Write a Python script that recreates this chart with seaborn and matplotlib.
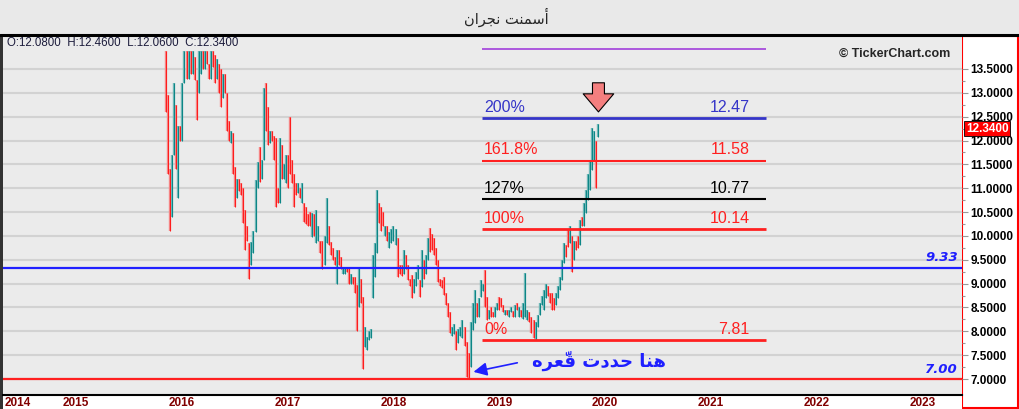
import numpy as np
import pandas as pd
import matplotlib
matplotlib.use('Agg')
import matplotlib.pyplot as plt
from matplotlib.patches import Rectangle
from matplotlib.lines import Line2D
from matplotlib.transforms import ScaledTranslation, blended_transform_factory
import seaborn as sns

sns.set_style('white')
plt.rcParams['font.family'] = ['Liberation Sans', 'DejaVu Sans']

# weekly candles (open, close)
first_week = '2016-01-03'
opens = [13.88, 12.95, 11.40, 10.40, 11.70, 12.75, 10.80, 12.30, 12.00, 13.20,
         13.88, 13.30, 13.88, 13.40, 13.75, 13.27, 13.00, 13.40, 13.88, 13.50,
         13.88, 13.60, 13.30, 13.88, 13.80, 13.30, 13.60, 13.50, 12.90, 13.40,
         13.00, 12.40, 11.95, 12.15, 11.45, 10.80, 11.20, 11.10, 11.00, 10.55,
         10.20, 9.85, 9.40, 9.65, 10.08, 11.00, 11.86, 11.20, 11.60, 13.20,
         12.70, 11.95, 12.20,
         # 2017
         12.10, 12.05, 11.00, 10.70, 11.90, 11.20, 11.10, 11.70, 12.50, 11.60,
         11.30, 11.10, 10.90, 11.00, 10.70, 10.70, 10.60, 10.45, 10.50, 9.98,
         10.45, 9.85, 9.90, 9.90, 9.90, 9.40, 9.85, 10.20, 9.87, 9.75,
         9.55, 9.00, 9.70, 9.55, 9.20, 9.20, 9.35, 9.33, 9.00, 9.14,
         9.14, 8.97, 8.50, 9.10, 8.72, 7.67, 7.60, 7.82, 7.85, 8.70,
         9.14, 9.64,
         # 2018
         10.70, 10.60, 10.50, 10.00, 10.20, 9.75, 9.85, 9.90, 9.80, 9.95,
         9.40, 9.40, 9.20, 9.60, 9.40, 9.10, 9.18, 8.80, 8.95, 9.10,
         9.07, 8.93, 9.50, 9.20, 9.50, 10.17, 10.05, 9.95, 9.75, 9.50,
         9.10, 9.07, 9.14, 8.80, 8.60, 8.40, 7.90, 7.95, 8.00, 7.75,
         7.90, 7.86, 8.10, 7.78, 7.55, 7.25, 8.03, 8.17, 8.60, 8.30,
         8.72, 8.85, 9.28,
         # 2019
         8.72, 8.25, 8.50, 8.40, 8.30, 8.45, 8.72, 8.70, 8.55, 8.35,
         8.45, 8.30, 8.40, 8.42, 8.30, 8.60, 8.30, 8.45, 8.25, 8.30,
         8.24, 8.40, 8.30, 8.24, 7.81, 8.10, 8.35, 8.55, 8.45, 8.70,
         8.95, 8.80, 8.80, 8.70, 8.55, 8.70, 8.87, 9.07, 9.43, 9.80,
         10.12, 9.85, 10.00, 9.50, 9.90, 10.00, 9.80, 10.40, 10.20, 10.48,
         10.75, 10.96, 11.38, 11.60, 12.00, 12.08]
closes = [12.60, 11.30, 10.10, 11.70, 13.20, 11.40, 12.30, 12.00, 13.20, 13.88,
          13.30, 13.88, 13.40, 13.88, 13.27, 12.43, 13.88, 13.88, 13.50, 13.88,
          13.60, 13.30, 13.88, 13.55, 13.20, 13.70, 13.00, 12.70, 13.40, 13.00,
          12.20, 12.00, 12.20, 11.30, 10.60, 11.20, 10.95, 10.85, 10.27, 9.70,
          9.90, 9.10, 9.87, 10.10, 11.17, 11.55, 11.13, 11.60, 13.10, 12.20,
          11.90, 12.20, 12.00,
          # 2017
          11.60, 10.60, 10.70, 12.05, 11.20, 11.50, 11.70, 11.00, 11.30, 11.10,
          10.60, 10.85, 11.10, 10.80, 11.10, 10.30, 10.25, 10.20, 10.20, 10.47,
          10.00, 10.55, 10.20, 9.65, 9.30, 10.00, 10.80, 9.80, 9.60, 9.50,
          9.40, 9.70, 9.40, 9.30, 9.33, 9.35, 9.25, 9.00, 9.20, 9.00,
          8.80, 8.00, 9.35, 8.60, 7.20, 8.10, 7.88, 8.00, 8.05, 9.60,
          9.85, 10.96,
          # 2018
          10.27, 10.10, 10.20, 10.20, 9.90, 10.08, 10.15, 10.20, 10.15, 9.14,
          9.20, 9.15, 9.70, 9.30, 9.07, 8.95, 8.70, 9.10, 9.25, 9.40,
          8.72, 9.70, 9.10, 9.60, 9.95, 9.67, 9.70, 9.60, 9.40, 9.03,
          8.95, 8.90, 8.76, 8.55, 8.30, 7.96, 8.10, 8.15, 7.60, 8.05,
          8.10, 8.24, 7.70, 7.04, 7.02, 8.20, 8.60, 8.87, 8.30, 8.70,
          9.07, 9.00, 8.50,
          # 2019
          8.24, 8.45, 8.30, 8.30, 8.50, 8.60, 8.45, 8.50, 8.40, 8.45,
          8.35, 8.45, 8.50, 8.30, 8.55, 8.45, 8.50, 8.30, 8.60, 9.22,
          8.45, 8.20, 7.96, 7.85, 8.20, 8.35, 8.60, 8.75, 8.87, 9.00,
          8.75, 8.60, 8.45, 8.45, 8.80, 8.95, 9.14, 9.50, 9.85, 9.55,
          9.77, 10.20, 9.25, 9.90, 9.70, 9.75, 10.33, 10.20, 10.70, 10.96,
          11.30, 11.60, 12.26, 12.20, 11.00, 12.34]

title = '\uFEE5\uFE8D\uFEAE\uFEA0\uFEE7 \uFE96\uFEE8\uFEE4\uFEB3\uFE83'   # أسمنت نجران
note = '\uFEE9\uFEAE\uFECC\u0651\uFED7 \uFE95\uFEA9\uFEAA\uFEA3 \uFE8E\uFEE8\uFEEB'  # هنا حددت قّعره
ohlc_text = 'O:12.0800  H:12.4600  L:12.0600  C:12.3400'
last_price = 12.34

fib_names = ['0%', '100%', '127%', '161.8%', '200%']
fib_values = [7.81, 10.14, 10.77, 11.58, 12.47]
fib_colors = ['#ff2020', '#ff2020', '#000000', '#ff2020', '#3535c8']
fib_widths = [2.0, 2.0, 1.5, 1.5, 2.0]
fib_top = 13.91
fib_start, fib_end = pd.Timestamp('2018-12-27'), pd.Timestamp('2021-09-01')
support = 9.33
floor = 7.00
years = list(range(2015, 2024))
price_ticks = np.arange(7.0, 13.51, 0.5)

dates = pd.date_range(first_week, periods=len(closes), freq='7D')
candles = pd.DataFrame({'week': range(len(closes)), 'date': dates,
                        'open': opens, 'close': closes})
candles['dir'] = np.where(candles['close'] >= candles['open'], 'up', 'down')
long = candles.melt(id_vars=['week', 'date', 'dir'], value_vars=['open', 'close'],
                    value_name='price')

fig = plt.figure(figsize=(10.2, 4.09), dpi=100, facecolor='#e9e9e9')
ax = fig.add_axes([3 / 1020, 14 / 409, 959 / 1020, 358 / 409])
ax.set_facecolor('#ebebeb')

# frame pieces around the plot
fig.add_artist(Rectangle((962.5 / 1020, 1 / 409), 56 / 1020, 372 / 409, transform=fig.transFigure,
                         fc='white', ec='#ff0000', lw=1.5, zorder=-1))
fig.add_artist(Rectangle((3 / 1020, 0), 959 / 1020, 14 / 409, transform=fig.transFigure,
                         fc='white', ec='none', zorder=-1))
fig.add_artist(Rectangle((0, 0), 3 / 1020, 374 / 409, transform=fig.transFigure,
                         fc='#333333', ec='none', zorder=-1))
fig.add_artist(Line2D([0, 1], [1 - 35 / 409] * 2, transform=fig.transFigure, color='black', lw=2.2))

# candles
sns.lineplot(data=long, x='date', y='price', units='week', hue='dir', estimator=None, sort=False,
             palette={'up': '#6db6b6', 'down': '#f58383'}, lw=1.7, legend=False, ax=ax,
             solid_capstyle='butt')
sns.lineplot(data=long, x='date', y='price', units='week', hue='dir', estimator=None, sort=False,
             palette={'up': '#0a8585', 'down': '#ff1a1a'}, lw=0.7, legend=False, ax=ax,
             solid_capstyle='butt')

# fibonacci levels
for name, v, c, w in zip(fib_names, fib_values, fib_colors, fib_widths):
    ax.hlines(v, fib_start, fib_end, color=c, lw=w, zorder=3)
    ax.annotate(name, (fib_start, v), xytext=(1.5, 2.5), textcoords='offset points',
                color=c, fontsize=11.5, ha='left', va='bottom')
    ax.annotate(f'{v:.2f}', (fib_end, v), xytext=(-11.5, 2.5), textcoords='offset points',
                color=c, fontsize=11.5, ha='right', va='bottom')
ax.hlines(fib_top, fib_start, fib_end, color='#9b30d9', lw=1.1, zorder=3)

# horizontal support lines
ax.axhline(support, color='#1f1fff', lw=1.6, zorder=3)
ax.axhline(floor, color='#ff2020', lw=1.6, zorder=3)
bt = blended_transform_factory(ax.transAxes, ax.transData)
for v in [support, floor]:
    ax.annotate(f'{v:.2f}', (0.996, v), xycoords=bt, xytext=(0, 2.5), textcoords='offset points',
                color='#1f1fff', fontsize=9.5, fontweight='bold', fontstyle='italic',
                family='DejaVu Sans', ha='right', va='bottom')

# arrows and notes
ax.annotate('', xy=(dates[-1], 12.60), xytext=(dates[-1], 13.21),
            arrowprops=dict(arrowstyle='simple,head_length=13,head_width=22,tail_width=8.6',
                            mutation_scale=1, fc='#f47f7f', ec='black', lw=0.8,
                            shrinkA=0, shrinkB=0), zorder=5)
ax.annotate('', xy=(pd.Timestamp('2018-11-28'), 7.15), xytext=(pd.Timestamp('2019-04-28'), 7.34),
            arrowprops=dict(arrowstyle='-|>,head_length=0.8,head_width=0.4', color='#1f1fff',
                            lw=1.2, shrinkA=0, shrinkB=0), zorder=5)
ax.text(pd.Timestamp('2019-06-17'), 7.37, note, color='#1f1fff', fontsize=13, fontweight='bold',
        family='DejaVu Sans', ha='left', va='center')

ax.text(0.004, 0.982, ohlc_text, transform=ax.transAxes, fontsize=8.3, color='#1c1c3c',
        ha='left', va='center')
ax.text(0.9875, 0.952, '\u00a9 TickerChart.com', transform=ax.transAxes, fontsize=9,
        fontweight='bold', ha='right', va='center')
fig.text(506 / 1020, 1 - 17 / 409, title, ha='center', va='center', fontsize=10.5,
         family='DejaVu Sans')

# axes
ax.set_xlim(pd.Timestamp('2014-06-19'), pd.Timestamp('2023-07-10'))
ax.set_ylim(6.665, 14.17)
ax.set_xlabel('')
ax.set_ylabel('')
ax.yaxis.tick_right()
ax.set_yticks(price_ticks)
ax.set_yticklabels([f'{v:.4f}' for v in price_ticks])
ax.set_yticks(price_ticks[:-1] + 0.25, minor=True)
ax.tick_params(axis='y', which='major', direction='out', length=4, width=0.8, color='#999999',
               pad=2, labelsize=8.5, labelcolor='black')
ax.tick_params(axis='y', which='minor', direction='out', length=2, width=0.8, color='#999999')
for lab in ax.get_yticklabels():
    lab.set_fontweight('bold')

ax.set_xticks(pd.to_datetime([f'{y}-01-01' for y in years]))
ax.set_xticklabels([str(y) for y in years])
ax.tick_params(axis='x', direction='in', length=5, width=0.8, color='#aaaaaa', pad=1.5,
               labelsize=8.5, labelcolor='#800000')
shift = ScaledTranslation(2 / 72, 0, fig.dpi_scale_trans)
for lab in ax.get_xticklabels():
    lab.set_fontweight('bold')
    lab.set_ha('left')
    lab.set_transform(lab.get_transform() + shift)
ax.text(0.002, -0.006, '2014', transform=ax.transAxes, color='#800000', fontsize=8.5,
        fontweight='bold', ha='left', va='top')

ax.grid(axis='y', which='major', color='#d2d2d2', lw=1.5)
ax.grid(axis='x', visible=False)
ax.set_axisbelow(True)
for s in ['left', 'right', 'top']:
    ax.spines[s].set_visible(False)
ax.spines['bottom'].set_color('black')
ax.spines['bottom'].set_linewidth(1.5)

# current price tag, sitting between the 12.0 and 12.5 labels as in the source
ax.text(1.004, 12.5, f'{last_price:.4f}', transform=bt, color='white', fontsize=8.5,
        fontweight='bold', ha='left', va='center', clip_on=False,
        bbox=dict(boxstyle='square,pad=0.15', fc='#ff0000', ec='black', lw=0.6),
        transform_rotates_text=False)
tag = ax.texts[-1]
tag.set_transform(bt + ScaledTranslation(0, -12 / 100, fig.dpi_scale_trans))

fig.savefig('out.png', dpi=100, facecolor=fig.get_facecolor())
